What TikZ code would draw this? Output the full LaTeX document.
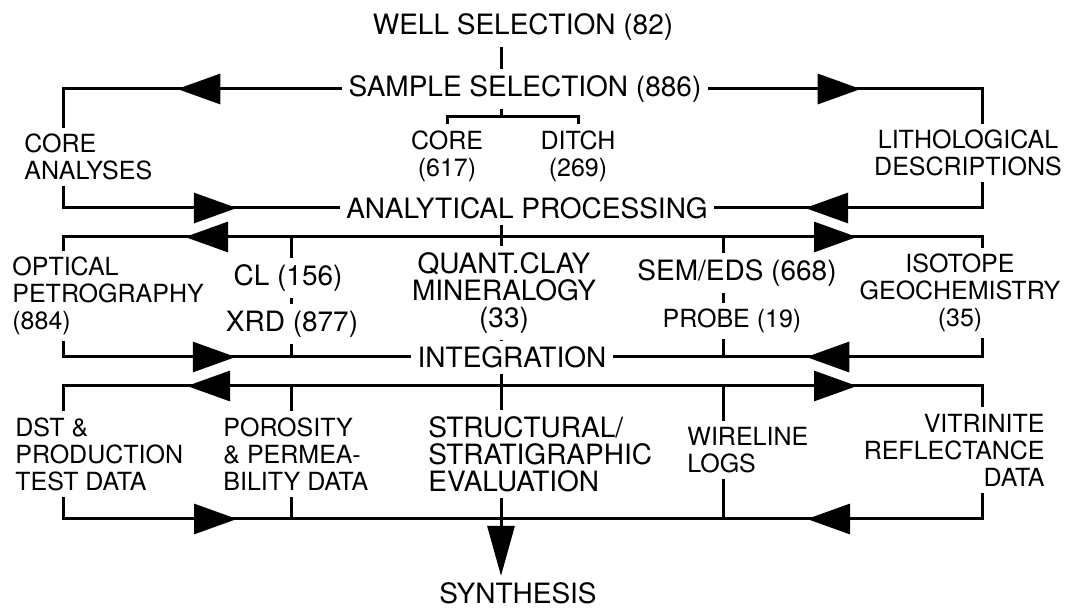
\documentclass[tikz,border=0pt]{standalone}
\usepackage{fontspec}
\setmainfont{TeX Gyre Heros}
\usetikzlibrary{arrows.meta,decorations.markings}
\tikzset{
  stage/.style={
    font=\fontsize{14}{13.5}\selectfont,
    inner sep=3pt,
    align=center
  },
  item/.style={
    font=\fontsize{12.5}{13.5}\selectfont,
    inner sep=3pt
  },
  link/.style={
    line width=1.5pt
  },
  fwd/.style={
    postaction={decorate,decoration={markings,
      mark=at position #1 with {\arrow{Triangle[length=21.5pt,width=15pt]}}}}
  },
  bwd/.style={
    postaction={decorate,decoration={markings,
      mark=at position #1 with {\arrowreversed{Triangle[length=21.5pt,width=15pt]}}}}
  }
}
\begin{document}
\begin{tikzpicture}[x=0.5pt,y=-0.5pt]
\useasboundingbox (0,0) rectangle (1089,609);
\coordinate (L) at (63,0);
\coordinate (A) at (291,0);
\coordinate (M) at (501,0);
\coordinate (B) at (723,0);
\coordinate (R) at (982,0);
\coordinate (br) at (0,117);
\coordinate (d1) at (0,237);
\coordinate (d2) at (0,386);
\coordinate (d3) at (0,519);
\node[stage] (well) at (523,27) {WELL SELECTION (82)};
\node[stage] (sample) at (525,89) {SAMPLE SELECTION (886)};
\node[item,align=center] (core) at (447,156) {CORE\\(617)};
\node[item,align=center] (ditch) at (578,156) {DITCH\\(269)};
\node[item,align=left,anchor=west] (coreana) at (18,157) {CORE\\ANALYSES};
\node[item,align=center] (litho) at (968,153) {LITHOLOGICAL\\DESCRIPTIONS};
\node[stage] (anal) at (527,208) {ANALYTICAL PROCESSING};
\node[item,align=left,anchor=west] (optical) at (6,296) {OPTICAL\\PETROGRAPHY\\(884)};
\node[stage] (cl) at (288,278) {CL (156)};
\node[stage] (xrd) at (292,324) {XRD (877)};
\node[stage] (quant) at (504,293) {QUANT.CLAY\\MINERALOGY\\(33)};
\node[stage] (sem) at (737,273) {SEM/EDS (668)};
\node[item] (probe) at (732,321) {PROBE (19)};
\node[item,align=center] (isotope) at (960,293) {ISOTOPE\\GEOCHEMISTRY\\(35)};
\node[stage] (integ) at (512,357) {INTEGRATION};
\node[item,align=left,anchor=west] (dst) at (9,454) {DST \&\\PRODUCTION\\TEST DATA};
\node[item,align=left,anchor=west] (poro) at (217,454) {POROSITY\\\& PERMEA-\\BILITY DATA};
\node[stage,align=left,anchor=west] (struct) at (422,454) {STRUCTURAL/\\STRATIGRAPHIC\\EVALUATION};
\node[item,align=left,anchor=west] (wire) at (681,450) {WIRELINE\\LOGS};
\node[item,align=right,anchor=east] (vitri) at (1051,450) {VITRINITE\\REFLECTANCE\\DATA};
\node[stage] (synth) at (518,593) {SYNTHESIS};
\draw[link] (M |- well.south) -- (M |- sample.north);
\draw[link] (M |- sample.south) -- (M |- br);
\draw[link] (core.north) |- (M |- br) -| (ditch.north);
\draw[link,fwd=82.5pt] (sample.west) -- (L |- sample) -- (L |- coreana.north);
\draw[link,fwd=76.5pt] (sample.east) -- (R |- sample) -- (R |- litho.north);
\draw[link,bwd=51.5pt] (anal.west) -- (L |- anal) -- (L |- coreana.south);
\draw[link,bwd=45.5pt] (anal.east) -- (R |- anal) -- (R |- litho.south);
\draw[link] (M |- anal.south) -- (M |- quant.north);
\draw[link,fwd=158pt] (M |- d1) -- (L |- d1) -- (L |- optical.north);
\draw[link,fwd=178pt] (M |- d1) -- (R |- d1) -- (R |- isotope.north);
\foreach \cx/\up/\dn in {A/cl/xrd,B/sem/probe}{
  \draw[link] (\cx |- d1) -- (\cx |- \up.north);
  \draw[link] (\cx |- \up.south) -- (\cx |- \dn.north);
  \draw[link] (\cx |- \dn.south) -- (\cx |- integ);
}
\draw[link] (M |- quant.south) -- (M |- integ.north);
\draw[link,bwd=87.75pt] (integ.west) -- (L |- integ) -- (L |- optical.south);
\draw[link,bwd=96.75pt] (integ.east) -- (R |- integ) -- (R |- isotope.south);
\draw[link] (M |- integ.south) -- (M |- struct.north);
\draw[link,fwd=157pt] (M |- d2) -- (L |- d2) -- (L |- dst.north);
\draw[link,fwd=178pt] (M |- d2) -- (R |- d2) -- (R |- vitri.north);
\foreach \cx/\nd in {A/poro,B/wire}{
  \draw[link] (\cx |- d2) -- (\cx |- \nd.north);
  \draw[link] (\cx |- \nd.south) -- (\cx |- d3);
}
\draw[link,bwd=132pt] (M |- d3) -- (L |- d3) -- (L |- dst.south);
\draw[link,bwd=153pt] (M |- d3) -- (R |- d3) -- (R |- vitri.south);
\draw[link,-{Triangle[length=25pt,width=13.5pt]}] (M |- struct.south) -- (M |- synth.north);
\end{tikzpicture}
\end{document}
